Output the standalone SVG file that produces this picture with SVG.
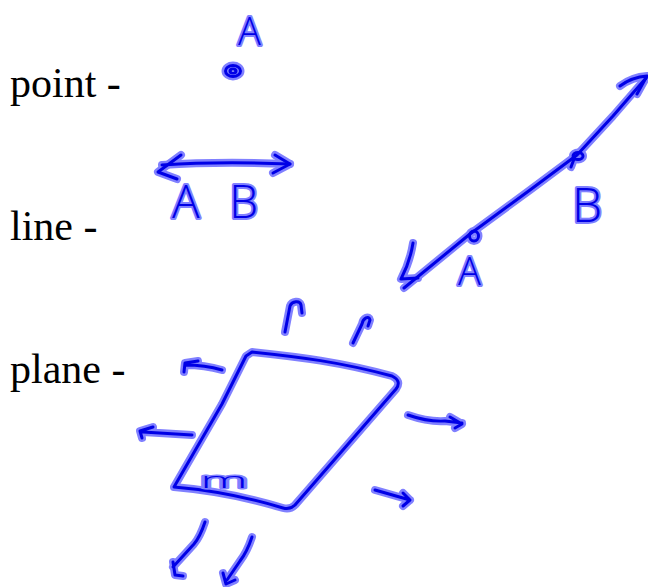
<svg xmlns="http://www.w3.org/2000/svg" xmlns:xlink="http://www.w3.org/1999/xlink" width="648" height="587" viewBox="0 0 648 587">
<style>
.lbl{font-family:"Liberation Serif","Times New Roman",serif;font-size:42px;fill:#000}
.halo{fill:none;stroke:#8080ff;stroke-width:8;stroke-linecap:round;stroke-linejoin:round}
.ink{fill:none;stroke:#0000e6;stroke-width:3;stroke-linecap:round;stroke-linejoin:round}
.hand{font-family:"Open Sans","DejaVu Sans",sans-serif;font-weight:300;fill:#0000e6;stroke:#8080ff;stroke-width:4;paint-order:stroke;stroke-linejoin:round}
</style>
<defs>
<g id="s-point">
<ellipse cx="233" cy="71" rx="7.5" ry="5.5"/>
<ellipse cx="233" cy="71" rx="3" ry="2"/>
</g>
<g id="s-line1">
<path d="M162,165 Q220,161 290,164"/>
<path d="M181,155 L158,172 L177,179"/>
<path d="M275,155 L290,164 L273,173"/>
</g>
<g id="s-line2">
<path d="M404,288 L470,234 L530,190 L577,155 L613,116 L646,78"/>
<path d="M620,86 Q632,77 647,76 L637,94"/>
<path d="M413,243 Q410,262 401,279 L418,278"/>
<ellipse cx="474" cy="236" rx="4.5" ry="5"/>
<ellipse cx="578" cy="156" rx="5" ry="3.5"/>
<path d="M574,159 L571,167"/>
</g>
<g id="s-plane">
<path d="M252,352 C300,357 340,362 392,376 Q402,381 396,389 L295,505 Q290,510 283,508 C250,498 210,490 174,487 L222,404 L246,356 Z"/>
<path d="M285,332 L290,306 C292,301 300,300 301,305 L302,313"/>
<path d="M353,343 L362,324 C363,318 369,315 370,320 L368,326"/>
<path d="M222,370 Q205,365 185,365 M184,372 L185,363 L198,361"/>
<path d="M192,435 L143,432 M142,438 L140,431 L153,427"/>
<path d="M408,415 Q428,422 445,421 L462,423 M450,417 L462,424 L455,428"/>
<path d="M375,490 L410,500 M403,493 L410,500 L403,506"/>
<path d="M205,522 Q200,537 194,544 L173,567 M173,562 L175,575 L183,576"/>
<path d="M252,537 Q247,552 240,561 L227,580 M223,573 L226,584 L235,580"/>
</g>
</defs>
<g id="labels">
<text class="lbl" x="10" y="97">point -</text>
<text class="lbl" x="10" y="240">line -</text>
<text class="lbl" x="10" y="383">plane -</text>
</g>
<g id="point">
<use xlink:href="#s-point" class="halo"/>
<use xlink:href="#s-point" class="ink"/>
<text class="hand" x="238" y="45" font-size="38">A</text>
</g>
<g id="line-AB-notation">
<use xlink:href="#s-line1" class="halo"/>
<use xlink:href="#s-line1" class="ink"/>
<text class="hand" x="172" y="218" font-size="46" textLength="86" lengthAdjust="spacing">AB</text>
</g>
<g id="line">
<use xlink:href="#s-line2" class="halo"/>
<use xlink:href="#s-line2" class="ink"/>
<text class="hand" x="572" y="222" font-size="48">B</text>
<text class="hand" x="458" y="285" font-size="38">A</text>
</g>
<g id="plane">
<use xlink:href="#s-plane" class="halo"/>
<use xlink:href="#s-plane" class="ink"/>
<text class="hand" x="200" y="488" font-size="22" textLength="48" lengthAdjust="spacingAndGlyphs" style="stroke-width:3">m</text>
</g>
</svg>
